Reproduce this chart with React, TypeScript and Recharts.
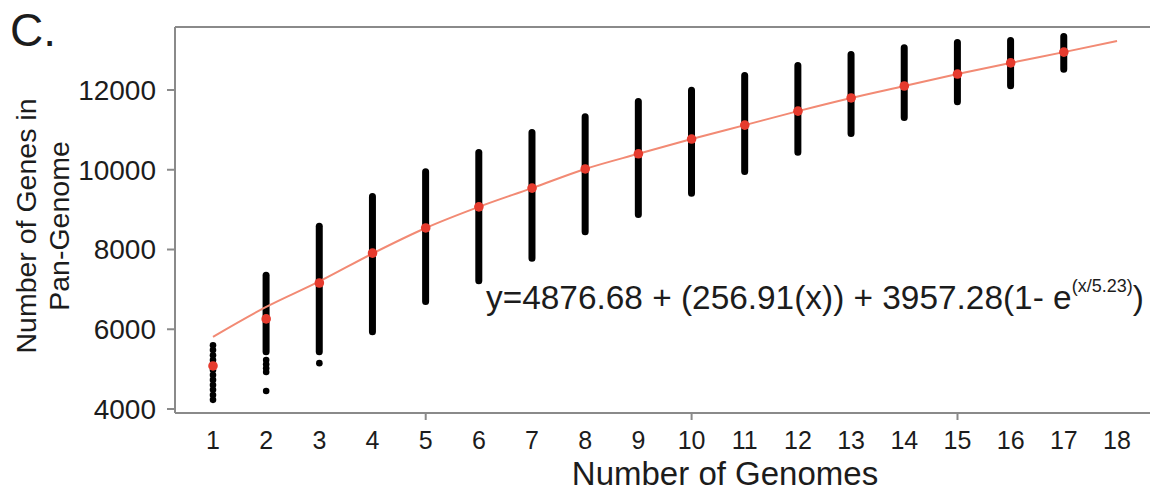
import React from "react";
import {
  Bar,
  ComposedChart,
  Label,
  Line,
  ReferenceLine,
  Scatter,
  XAxis,
  YAxis,
} from "recharts";

// vertical spread of pan-genome sizes for each genome count
const genomes = [1, 2, 3, 4, 5, 6, 7, 8, 9, 10, 11, 12, 13, 14, 15, 16, 17];
const spreadLow = [null, 5350, 5350, 5850, 6610, 7130, 7690, 8360, 8790, 9320, 9870, 10350, 10820, 11220, 11620, 12020, 12430];
const spreadHigh = [null, 7440, 8670, 9420, 10040, 10520, 11020, 11420, 11800, 12080, 12450, 12700, 12980, 13150, 13280, 13330, 13430];
const medians = [5080, 6260, 7160, 7910, 8540, 9070, 9540, 10020, 10400, 10770, 11120, 11470, 11800, 12100, 12400, 12680, 12950];

// single points drawn as separate dots
const dotGenomes = [1, 1, 1, 1, 1, 1, 1, 1, 1, 1, 1, 1, 2, 2, 2, 2, 2, 3];
const dotValues = [5600, 5480, 5350, 5230, 5100, 4980, 4850, 4730, 4600, 4480, 4350, 4230, 5230, 5120, 5020, 4930, 4450, 5150];

// fitted curve
const fitX = [1, 2, 3, 4, 5, 6, 7, 8, 9, 10, 11, 12, 13, 14, 15, 16, 17, 18];
const fitY = [5810, 6560, 7200, 7900, 8540, 9070, 9540, 10020, 10400, 10770, 11120, 11470, 11800, 12100, 12400, 12680, 12950, 13230];

const xTicks = fitX;
const yTicks = [4000, 6000, 8000, 10000, 12000];
const X_DOMAIN = [0.2855, 18.62];
const Y_DOMAIN = [3900, 13580];

const FONT = "'Liberation Sans', Arial, Helvetica, sans-serif";
const AXIS = "#8a8a8a";
const INK = "#1c1c1c";

const barData = genomes.map((g, i) => ({
  g,
  range: spreadLow[i] == null ? null : [spreadLow[i], spreadHigh[i]],
}));
const medianData = genomes.map((g, i) => ({ g, v: medians[i] }));
const dotData = dotGenomes.map((g, i) => ({ g, v: dotValues[i] }));
const fitData = fitX.map((g, i) => ({ g, v: fitY[i] }));

const XTick = (props: any) => {
  const { x, y, payload } = props;
  const major = payload.value % 5 === 0;
  return (
    <g>
      {major && <line x1={x} x2={x} y1={y - 8} y2={y - 1} stroke={AXIS} strokeWidth={2} />}
      <text x={x} y={y + 28} textAnchor="middle" fontSize={25} fontFamily={FONT} fill={INK}>
        {payload.value}
      </text>
    </g>
  );
};

const YTitle = (props: any) => {
  const { viewBox } = props;
  const cy = viewBox.y + viewBox.height / 2 + 6;
  return (
    <g fontFamily={FONT} fontSize={28.5} fill={INK}>
      <text transform={`translate(36, ${cy}) rotate(-90)`} textAnchor="middle">
        Number of Genes in
      </text>
      <text transform={`translate(69, ${cy}) rotate(-90)`} textAnchor="middle">
        Pan-Genome
      </text>
    </g>
  );
};

const XTitle = () => (
  <text x={725} y={485} textAnchor="middle" fontFamily={FONT} fontSize={33} fill={INK}>
    Number of Genomes
  </text>
);

export default function App() {
  return (
    <div
      style={{
        position: "absolute",
        left: 0,
        top: 0,
        width: 1150,
        height: 494,
        background: "#fff",
        fontFamily: FONT,
        overflow: "hidden",
      }}
    >
      <div style={{ position: "absolute", left: 10, top: 5, fontSize: 46, color: INK, lineHeight: 1.1 }}>
        C.
      </div>
      <ComposedChart
        width={1150}
        height={494}
        data={barData}
        margin={{ top: 27, right: 0, left: 0, bottom: 0 }}
      >
        <XAxis
          dataKey="g"
          type="number"
          domain={X_DOMAIN}
          allowDataOverflow
          ticks={xTicks}
          interval={0}
          height={81}
          tickSize={6}
          tickMargin={2}
          tickLine={false}
          tick={<XTick />}
          axisLine={{ stroke: AXIS, strokeWidth: 2 }}
        >
          <Label content={<XTitle />} />
        </XAxis>
        <YAxis
          type="number"
          domain={Y_DOMAIN}
          allowDataOverflow
          ticks={yTicks}
          width={175}
          tickSize={8}
          tickMargin={11}
          tick={{ fontSize: 28, fontFamily: FONT, fill: INK }}
          tickLine={{ stroke: AXIS, strokeWidth: 2 }}
          axisLine={{ stroke: AXIS, strokeWidth: 2 }}
        >
          <Label content={<YTitle />} />
        </YAxis>
        <ReferenceLine y={Y_DOMAIN[1]} stroke={AXIS} strokeWidth={2} />
        <Bar dataKey="range" barSize={7} fill="#000" radius={3.5} isAnimationActive={false} />
        <Line
          data={fitData}
          dataKey="v"
          type="monotone"
          stroke="#f28a74"
          strokeWidth={2}
          dot={false}
          activeDot={false}
          isAnimationActive={false}
        />
        <Scatter
          data={dotData}
          dataKey="v"
          isAnimationActive={false}
          shape={(p: any) => <circle cx={p.cx} cy={p.cy} r={3.3} fill="#000" />}
        />
        <Scatter
          data={medianData}
          dataKey="v"
          isAnimationActive={false}
          shape={(p: any) => <circle cx={p.cx} cy={p.cy} r={4.8} fill="#e63b2e" />}
        />
      </ComposedChart>
      <div
        style={{
          position: "absolute",
          left: 486,
          top: 281,
          fontSize: 33.4,
          color: INK,
          whiteSpace: "nowrap",
          lineHeight: 1,
        }}
      >
        y=4876.68 + (256.91(x)) + 3957.28(1- e
        <sup style={{ fontSize: 18, verticalAlign: "top", position: "relative", top: -4 }}>(x/5.23)</sup>)
      </div>
    </div>
  );
}
